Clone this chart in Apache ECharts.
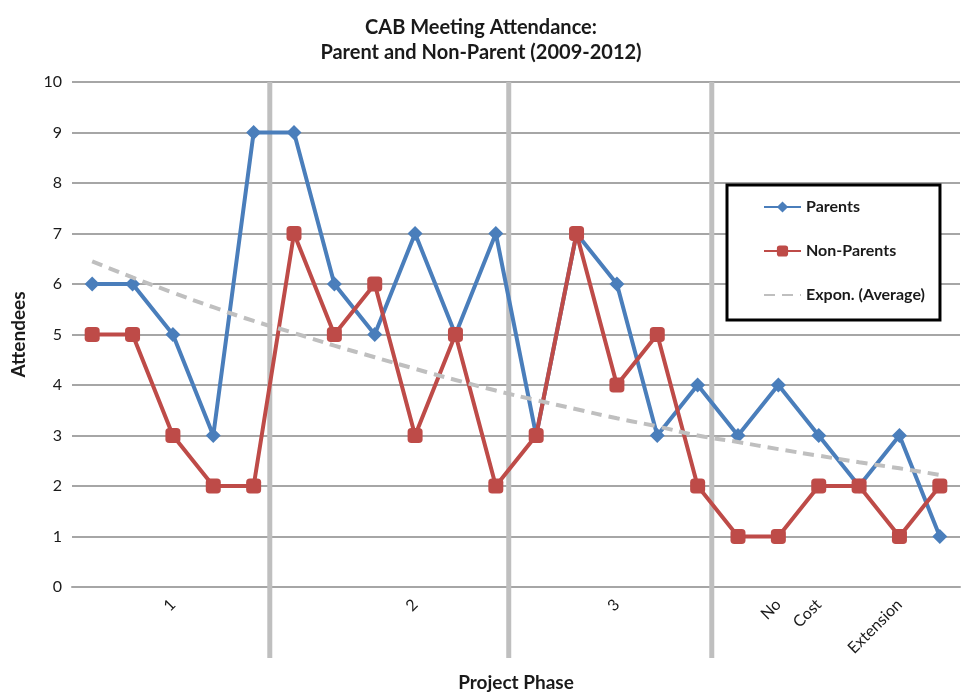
<!DOCTYPE html>
<html>
<head>
<meta charset="utf-8">
<script src="https://cdn.jsdelivr.net/npm/echarts@6/dist/echarts.min.js"></script>
<style>html,body{margin:0;padding:0;background:#fff}#c{width:962px;height:697px}</style>
</head>
<body>
<div id="c"></div>
<script>
const categories = ['M1','M2','M3','M4','M5','M6','M7','M8','M9','M10','M11','M12','M13','M14','M15','M16','M17','M18','M19','M20','M21','M22'];
const tickLabels = ['','','1','','','','','','2','','','','','3','','','','No','Cost','','Extension',''];
// phase separators, in meeting-index units
const phaseSeparators = [4.4, 10.32, 15.35];
const parents = [6,6,5,3,9,9,6,5,7,5,7,3,7,6,3,4,3,4,3,2,3,1];
const nonParents = [5,5,3,2,2,7,5,6,3,5,2,3,7,4,5,2,1,1,2,2,1,2];
const exponAverage = [6.45,6.13,5.83,5.54,5.27,5.03,4.78,4.55,4.32,4.10,3.89,3.70,3.52,3.34,3.18,3.00,2.87,2.73,2.60,2.47,2.35,2.22];

const FONT = 'Lato, "Open Sans", sans-serif';
const chart = echarts.init(document.getElementById('c'));
chart.setOption({
  animation: false,
  title: {
    text: 'CAB Meeting Attendance:\nParent and Non-Parent (2009-2012)',
    left: 'center', top: 10,
    textStyle: { fontFamily: FONT, fontWeight: 'bold', fontSize: 20, color: '#1a1a1a', lineHeight: 25 }
  },
  legend: {
    orient: 'vertical', left: 727, top: 185,
    padding: [14, 15, 17, 36],
    itemGap: 28, itemWidth: 37, itemHeight: 14,
    borderColor: '#000', borderWidth: 3,
    backgroundColor: '#fff',
    textStyle: { fontFamily: FONT, fontWeight: 'bold', fontSize: 16, color: '#1a1a1a' },
    data: ['Parents', 'Non-Parents', { name: 'Expon. (Average)', itemStyle: { opacity: 0 } }]
  },
  grid: { left: 72, right: 2, top: 82, bottom: 110, outerBoundsMode: 'none' },
  xAxis: [{
    type: 'category', data: categories, boundaryGap: true,
    name: 'Project Phase', nameLocation: 'middle', nameGap: 86,
    nameTextStyle: { fontFamily: FONT, fontWeight: 'bold', fontSize: 19, color: '#1a1a1a' },
    axisLine: { show: true, lineStyle: { color: '#a6a6a6', width: 2 } },
    axisTick: { show: false },
    splitLine: { show: false },
    axisLabel: {
      interval: 0, rotate: 45, margin: 15,
      fontFamily: FONT, fontSize: 16, color: '#1a1a1a',
      formatter: (v, i) => tickLabels[i]
    }
  }, {
    type: 'value', min: -0.5, max: 21.5, show: false
  }],
  yAxis: {
    type: 'value', min: 0, max: 10, interval: 1,
    name: 'Attendees', nameLocation: 'middle', nameGap: 44,
    nameTextStyle: { fontFamily: FONT, fontWeight: 'bold', fontSize: 19, color: '#1a1a1a' },
    axisLine: { show: false }, axisTick: { show: false },
    axisLabel: { fontFamily: FONT, fontSize: 16, color: '#1a1a1a', margin: 10 },
    splitLine: { lineStyle: { color: '#a6a6a6', width: 2 } }
  },
  series: [
    {
      type: 'custom', xAxisIndex: 1, clip: false, silent: true, z: 1,
      data: phaseSeparators.map(v => [v]),
      renderItem: (params, api) => {
        const top = api.coord([api.value(0), 10]);
        const bot = api.coord([api.value(0), 0]);
        return {
          type: 'line',
          shape: { x1: top[0], y1: top[1], x2: bot[0], y2: bot[1] + 71 },
          style: { stroke: '#bfbfbf', lineWidth: 5 }
        };
      }
    },
    {
      name: 'Parents', type: 'line', data: parents,
      symbol: 'diamond', symbolSize: 15,
      lineStyle: { color: '#4a7ebb', width: 4 },
      itemStyle: { color: '#4a7ebb' }, z: 3
    },
    {
      name: 'Non-Parents', type: 'line', data: nonParents,
      symbol: 'roundRect', symbolSize: 15,
      lineStyle: { color: '#be4b48', width: 4 },
      itemStyle: { color: '#be4b48' }, z: 4
    },
    {
      name: 'Expon. (Average)', type: 'line', data: exponAverage, smooth: true,
      symbol: 'none', showSymbol: false,
      lineStyle: { color: '#bfbfbf', width: 4, type: [11, 7] },
      itemStyle: { color: '#bfbfbf' }, z: 5
    }
  ]
});
</script>
</body>
</html>
